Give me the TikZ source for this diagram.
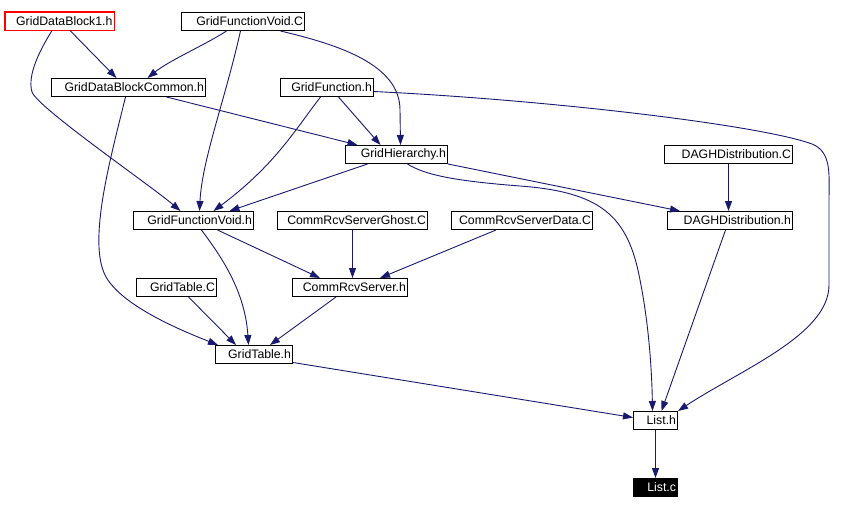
\documentclass[tikz,border=0pt]{standalone}
\usepackage{fontspec}
\setmainfont{Liberation Sans}
\usetikzlibrary{arrows.meta}

\definecolor{edgeblue}{RGB}{25,25,112}
\definecolor{markred}{RGB}{255,0,0}

\begin{document}
\begin{tikzpicture}[
  x=1pt, y=-1pt,
  font=\fontsize{12.3}{14}\selectfont,
  file/.style={draw, fill=white, anchor=north west, minimum height=18pt, inner xsep=1.5pt, inner ysep=0pt, align=right, line width=1pt},
  mainfile/.style={file, draw=markred},
  edge/.style={draw=edgeblue, line width=0.9pt, -{Triangle[length=10pt,width=7pt]}}
]
% Page frame, same proportions as the graph image
\useasboundingbox (0,0) rectangle (845,509);

% Files (top-left corner of each box, in image pixels)
\node[mainfile, text width=106pt] (gdb1) at (4.5,11.5) {GridDataBlock1.h};
\node[file, text width=120pt] (gfvC) at (181,12) {GridFunctionVoid.C};
\node[file, text width=151pt] (gdbc) at (51,78) {GridDataBlockCommon.h};
\node[file, text width=90pt] (gf) at (280,78) {GridFunction.h};
\node[file, text width=99pt] (gh) at (345,145) {GridHierarchy.h};
\node[file, text width=125pt] (daghC) at (664,145) {DAGHDistribution.C};
\node[file, text width=117pt] (gfvh) at (133,211) {GridFunctionVoid.h};
\node[file, text width=147pt] (crsg) at (277,211) {CommRcvServerGhost.C};
\node[file, text width=138pt] (crsd) at (451,211) {CommRcvServerData.C};
\node[file, text width=122pt] (daghh) at (667,211) {DAGHDistribution.h};
\node[file, text width=77pt] (gtC) at (136,278) {GridTable.C};
\node[file, text width=112pt] (crs) at (292,278) {CommRcvServer.h};
\node[file, text width=74pt] (gth) at (215,345) {GridTable.h};
\node[file, text width=41pt] (listh) at (633,411) {List.h};
\node[file, fill=black, text=white, text width=41pt] (listc) at (633,478) {List.c};
\draw[markred, line width=1pt] (gdb1.north west) rectangle (gdb1.south east);

% Include edges
\draw[edge] ([xshift=10.5]gdb1.south) -- ([xshift=-12]gdbc.north);
\draw[edge] ([xshift=-7.5]gdb1.south) .. controls (40,50) and (27,75) .. (32,92) .. controls (38,108) and (150,185) .. ([xshift=-13]gfvh.north);
\draw[edge] ([xshift=-16.5]gfvC.south) .. controls (205,45) and (170,60) .. ([xshift=19]gdbc.north);
\draw[edge] ([xshift=-2.5]gfvC.south) .. controls (225,100) and (202,160) .. ([xshift=6]gfvh.north);
\draw[edge] ([xshift=37.5]gfvC.south) .. controls (340,45) and (400,65) .. (400,110) -- ([xshift=4]gh.north);
\draw[edge] ([xshift=38]gdbc.south) -- ([xshift=-39]gh.north);
\draw[edge] ([xshift=-3]gdbc.south) .. controls (110,160) and (88,240) .. (105,275) .. controls (120,305) and (180,330) .. ([xshift=-36]gth.north);
\draw[edge] ([xshift=11.5]gf.south) -- ([xshift=-16]gh.north);
\draw[edge] ([xshift=-6.5]gf.south) .. controls (295,130) and (275,165) .. ([xshift=20]gfvh.north);
\draw[edge] ([yshift=-4]gf.east) .. controls (550,100) and (760,125) .. (812,144) .. controls (832,152) and (829,175) .. (829,200) -- (829,285) .. controls (829,335) and (740,370) .. (listh.north east);
\draw[edge] ([xshift=-29]gh.south) -- ([xshift=36]gfvh.north);
\draw[edge] (gh.south east) -- ([xshift=-50]daghh.north);
\draw[edge] ([xshift=11]gh.south) .. controls (425,175) and (455,181) .. (520,186) .. controls (600,192) and (628,215) .. (640,280) .. controls (650,330) and (652,380) .. ([xshift=-3]listh.north);
\draw[edge] (daghC.south) -- (daghC.south |- daghh.north);
\draw[edge] ([xshift=-4.5]daghh.south) -- ([xshift=6]listh.north);
\draw[edge] ([xshift=24]gfvh.south) -- ([xshift=-30]crs.north);
\draw[edge] ([xshift=8]gfvh.south) .. controls (220,255) and (245,290) .. ([xshift=-5.5]gth.north);
\draw[edge] (crsg.south) -- (crsg.south |- crs.north);
\draw[edge] ([xshift=-26]crsd.south) -- ([xshift=30]crs.north);
\draw[edge] ([xshift=12]gtC.south) -- ([xshift=-18]gth.north);
\draw[edge] ([xshift=-14]crs.south) -- ([xshift=16]gth.north);
\draw[edge] ([yshift=-8]gth.east) -- ([yshift=3]listh.west);
\draw[edge] (listh) -- (listc);

\end{tikzpicture}
\end{document}
